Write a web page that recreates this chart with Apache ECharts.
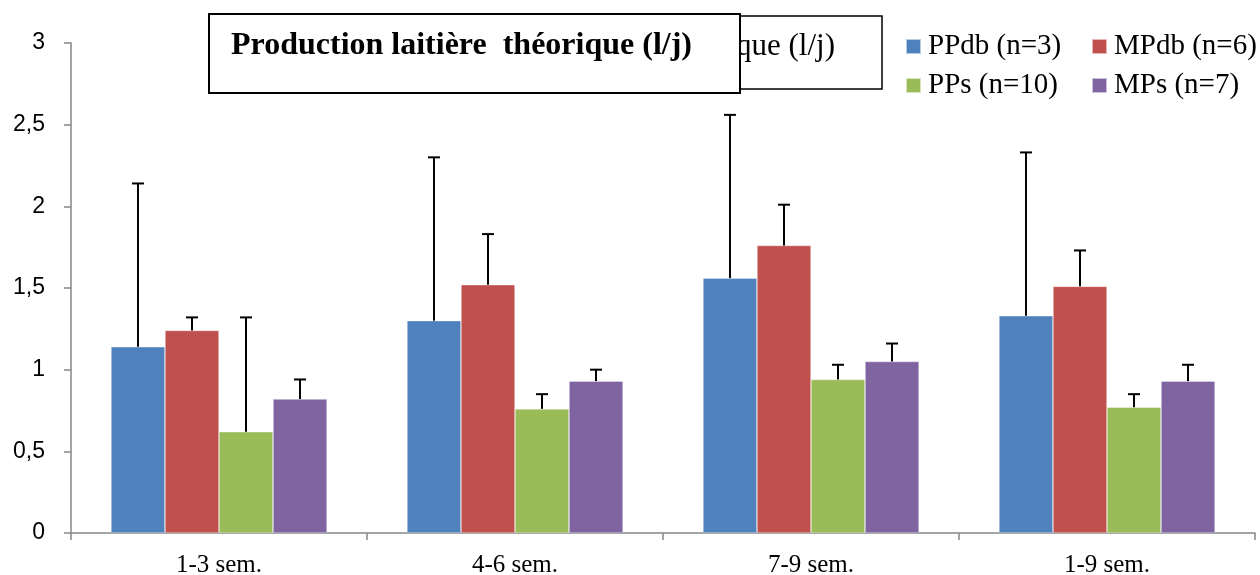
<!DOCTYPE html>
<html>
<head>
<meta charset="utf-8">
<script src="https://cdn.jsdelivr.net/npm/echarts@6/dist/echarts.min.js"></script>
<style>
  html, body { margin: 0; padding: 0; background: #fff; }
  #chart { width: 1260px; height: 575px; }
</style>
</head>
<body>
<div id="chart"></div>
<script>
// Periods on the x axis
const categories = ['1-3 sem.', '4-6 sem.', '7-9 sem.', '1-9 sem.'];
// Group names (legend)
const seriesNames = ['PPdb (n=3)', 'MPdb (n=6)', 'PPs (n=10)', 'MPs (n=7)'];
// Mean theoretical milk production (l/j)
const ppdb = [1.14, 1.30, 1.56, 1.33];
const mpdb = [1.24, 1.52, 1.76, 1.51];
const pps  = [0.62, 0.76, 0.94, 0.77];
const mps  = [0.82, 0.93, 1.05, 0.93];
// Standard deviations (upper error bars)
const ppdbSd = [1.00, 1.00, 1.00, 1.00];
const mpdbSd = [0.08, 0.31, 0.25, 0.22];
const ppsSd  = [0.70, 0.09, 0.09, 0.08];
const mpsSd  = [0.12, 0.07, 0.11, 0.10];
// Y axis ticks
const yTicks = [0, 0.5, 1, 1.5, 2, 2.5, 3];

const colors = ['#4F81BD', '#C0504D', '#9BBB59', '#8064A2'];
const means = [ppdb, mpdb, pps, mps];
const sds = [ppdbSd, mpdbSd, ppsSd, mpsSd];
const catGap = 0.27;

const chart = echarts.init(document.getElementById('chart'));

const barSeries = means.map((vals, s) => ({
  name: seriesNames[s],
  type: 'bar',
  data: vals,
  barGap: '0%',
  barCategoryGap: (catGap * 100) + '%',
  itemStyle: { color: colors[s], borderColor: 'rgba(255,255,255,0.6)', borderWidth: 0.6 },
  z: 2
}));

// Error bars: [category index, mean, mean + sd, series index]
const errData = [];
means.forEach((vals, s) => {
  vals.forEach((v, i) => errData.push([i, v, +(v + sds[s][i]).toFixed(3), s]));
});

const errSeries = {
  type: 'custom',
  name: 'err',
  data: errData,
  z: 5,
  encode: { x: 0, y: [1, 2] },
  renderItem: function (params, api) {
    const cat = api.value(0);
    const s = api.value(3);
    const base = api.coord([cat, api.value(1)]);
    const top = api.coord([cat, api.value(2)]);
    const band = api.size([1, 0])[0];
    const bw = band * (1 - catGap) / 4;
    const x = base[0] + (s - 1.5) * bw;
    const style = { stroke: '#000', lineWidth: 2 };
    return {
      type: 'group',
      children: [
        { type: 'line', shape: { x1: x, y1: base[1], x2: x, y2: top[1] }, style: style },
        { type: 'line', shape: { x1: x - 6, y1: top[1], x2: x + 6, y2: top[1] }, style: style }
      ]
    };
  }
};

const legendPos = [
  { left: 905, top: 32 }, { left: 1091, top: 32 },
  { left: 905, top: 71 }, { left: 1091, top: 71 }
];
const legends = seriesNames.map((n, i) => ({
  data: [n],
  left: legendPos[i].left,
  top: legendPos[i].top,
  icon: 'rect',
  itemWidth: 15,
  itemHeight: 15,
  padding: 0,
  selectedMode: false,
  textStyle: { fontFamily: 'Liberation Serif', fontSize: 29, color: '#000', padding: [0, 0, 0, 2] }
}));

chart.setOption({
  animation: false,
  backgroundColor: '#fff',
  color: colors,
  legend: legends,
  grid: { left: 71, right: 5, top: 43, bottom: 42, containLabel: false, outerBoundsMode: 'none' },
  xAxis: {
    type: 'category',
    data: categories,
    axisLine: { lineStyle: { color: '#868686', width: 1.5 } },
    axisTick: { show: true, length: 7, lineStyle: { color: '#868686', width: 1.5 } },
    axisLabel: { color: '#000', fontFamily: 'Liberation Serif', fontSize: 25, margin: 20 },
    splitLine: { show: false }
  },
  yAxis: {
    type: 'value',
    min: yTicks[0],
    max: yTicks[yTicks.length - 1],
    interval: 0.5,
    axisLine: { show: true, lineStyle: { color: '#868686', width: 1.5 } },
    axisTick: { show: true, length: 7, lineStyle: { color: '#868686', width: 1.5 } },
    axisLabel: {
      color: '#000', fontFamily: 'Liberation Sans', fontSize: 23, margin: 26,
      formatter: v => String(v).replace('.', ',')
    },
    splitLine: { show: false }
  },
  graphic: [
    // Back title box (mostly hidden)
    { type: 'rect', z: 10, shape: { x: 300, y: 16, width: 582, height: 73 },
      style: { fill: '#fff', stroke: '#000', lineWidth: 1.5 } },
    { type: 'text', z: 11, x: 835, y: 47,
      style: { text: 'Production laitière théorique (l/j)', fill: '#000', align: 'right', verticalAlign: 'middle',
               font: '31px "Liberation Serif"' } },
    // Front title box
    { type: 'rect', z: 20, shape: { x: 209, y: 14, width: 531, height: 79 },
      style: { fill: '#fff', stroke: '#000', lineWidth: 2 } },
    { type: 'text', z: 21, x: 231, y: 46,
      style: { text: 'Production laitière  théorique (l/j)', fill: '#000', verticalAlign: 'middle',
               font: 'bold 32px "Liberation Serif"' } }
  ],
  series: barSeries.concat([errSeries])
});
</script>
</body>
</html>
